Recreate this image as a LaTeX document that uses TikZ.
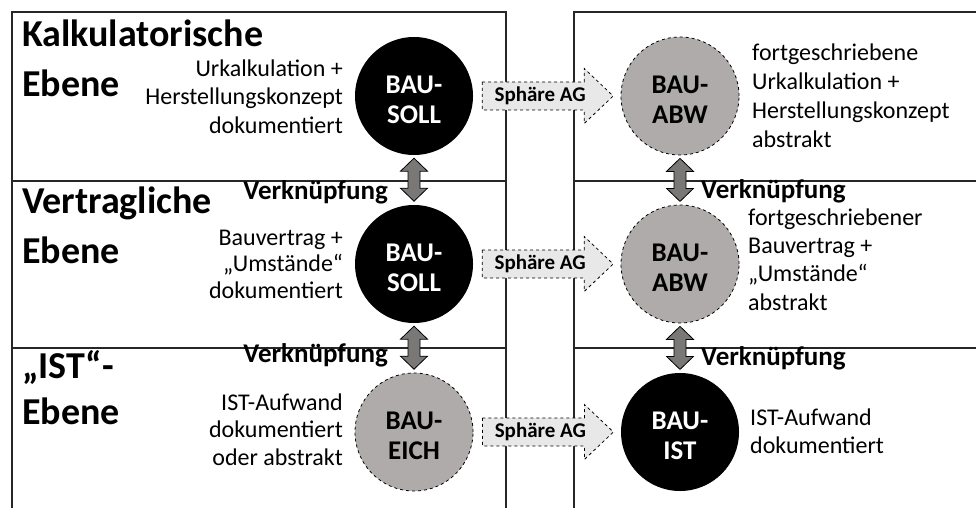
\documentclass[tikz,border=0pt]{standalone}
\usepackage{fontspec}
\setmainfont{Carlito}
\usetikzlibrary{calc}
\definecolor{circgrey}{HTML}{AFABAB}
\definecolor{arrowgrey}{HTML}{7A7777}
\definecolor{lightgrey}{HTML}{E9E8E8}
\begin{document}
\begin{tikzpicture}[x=1pt,y=-1pt,
  frame/.style={line width=1.2pt, draw=black!85},
  circblack/.style={circle, fill=black, minimum size=118pt, inner sep=0pt},
  circgray/.style={circle, fill=circgrey, draw=black, dashed, line width=0.8pt,
    minimum size=118pt, inner sep=0pt},
  circtext/.style={inner sep=0pt, font=\fontsize{27}{30}\selectfont\bfseries, align=center},
  title/.style={anchor=base west, inner sep=0pt, align=left},
  desc/.style={inner sep=0pt},
  link/.style={inner sep=0pt, font=\fontsize{27}{30}\selectfont\bfseries},
  dblarrow/.style={draw=black, fill=arrowgrey, line width=0.8pt, line join=miter},
  sphare/.style={draw=black, dashed, fill=lightgrey, line width=0.8pt},
  sphtext/.style={inner sep=0pt, font=\fontsize{21}{24}\selectfont\bfseries},
]
\useasboundingbox (0,0) rectangle (976,508);
% frames
\draw[frame] (12,508) -- (12,12) -- (506,12) -- (506,508);
\draw[frame] (12,181) -- (506,181);
\draw[frame] (12,348) -- (506,348);
\draw[frame] (976,12) -- (574,12) -- (574,508);
\draw[frame] (574,181) -- (976,181);
\draw[frame] (574,348) -- (976,348);

% titles (anchor = baseline of last line)
\node[title, font=\fontsize{38}{50}\selectfont\bfseries] (t1) at (22,97) {Kalkulatorische\\Ebene};
\node[title, font=\fontsize{38}{50}\selectfont\bfseries] (t2) at (22,263) {Vertragliche\\Ebene};
\node[title, font=\fontsize{38}{46}\selectfont\bfseries] (t3) at (22,424) {„IST“-\\Ebene};

% circles
\node[circblack] (s1) at (414,96) {};
\node[circblack] (s2) at (414,264) {};
\node[circgray] (e1) at (414,432) {};
\node[circgray] (a1) at (680,96) {};
\node[circgray] (a2) at (680,264) {};
\node[circblack] (i1) at (680,432) {};
\node[circtext, text=white] (s1t) at ($(s1)+(0,4)$) {BAU-\\SOLL};
\node[circtext, text=white] (s2t) at ($(s2)+(0,4)$) {BAU-\\SOLL};
\node[circtext] (e1t) at ($(e1)+(0,4)$) {BAU-\\EICH};
\node[circtext] (a1t) at ($(a1)+(0,4)$) {BAU-\\ABW};
\node[circtext] (a2t) at ($(a2)+(0,4)$) {BAU-\\ABW};
\node[circtext, text=white] (i1t) at ($(i1)+(0,4)$) {BAU-\\IST};

% descriptions (anchor = baseline of last line)
\node[desc, anchor=base east, align=right, font=\fontsize{24}{28.5}\selectfont] (d1) at (343,133) {Urkalkulation +\\Herstellungskonzept\\dokumentiert};
\node[desc, anchor=base east, align=right, font=\fontsize{24}{26.5}\selectfont] (d2) at (343,298) {Bauvertrag +\\„Umstände“\\dokumentiert};
\node[desc, anchor=base east, align=right, font=\fontsize{24}{27.5}\selectfont] (d3) at (343,465) {IST-Aufwand\\dokumentiert\\oder abstrakt};
\node[desc, anchor=base west, align=left, font=\fontsize{24}{29}\selectfont] (d4) at (752,147) {fortgeschriebene\\Urkalkulation +\\Herstellungskonzept\\abstrakt};
\node[desc, anchor=base west, align=left, font=\fontsize{24}{28.3}\selectfont] (d5) at (748,310) {fortgeschriebener\\Bauvertrag +\\„Umstände“\\abstrakt};
\node[desc, anchor=base west, align=left, font=\fontsize{24}{28}\selectfont] (d6) at (750,453) {IST-Aufwand\\dokumentiert};

% Verknuepfung labels
\node[link, anchor=base east] (v1) at (388,199) {Verknüpfung};
\node[link, anchor=base east] (v2) at (388,362) {Verknüpfung};
\node[link, anchor=base west] (v3) at (701,198) {Verknüpfung};
\node[link, anchor=base west] (v4) at (701,365) {Verknüpfung};

% double arrows between levels
\foreach \u in {s1, s2, a1, a2}{
  \draw[dblarrow] ($(\u.south)+(0,3)$) -- ++(13.5,13) -- ++(-7.5,0) -- ++(0,17)
    -- ++(7.5,0) -- ++(-13.5,13) -- ++(-13.5,-13) -- ++(7.5,0) -- ++(0,-17)
    -- ++(-7.5,0) -- cycle;
}

% Sphaere AG arrows
\foreach \f/\n in {s1/p1, s2/p2, e1/p3}{
  \draw[sphare] ($(\f.east)+(9,-14)$) -- ++(102,0) -- ++(0,-13.5) -- ++(29,27.5)
    -- ++(-29,27.5) -- ++(0,-13.5) -- ++(-102,0) -- cycle;
  \node[sphtext] (\n) at ($(\f.east)+(67,0)$) {Sphäre AG};
}
\end{tikzpicture}
\end{document}
